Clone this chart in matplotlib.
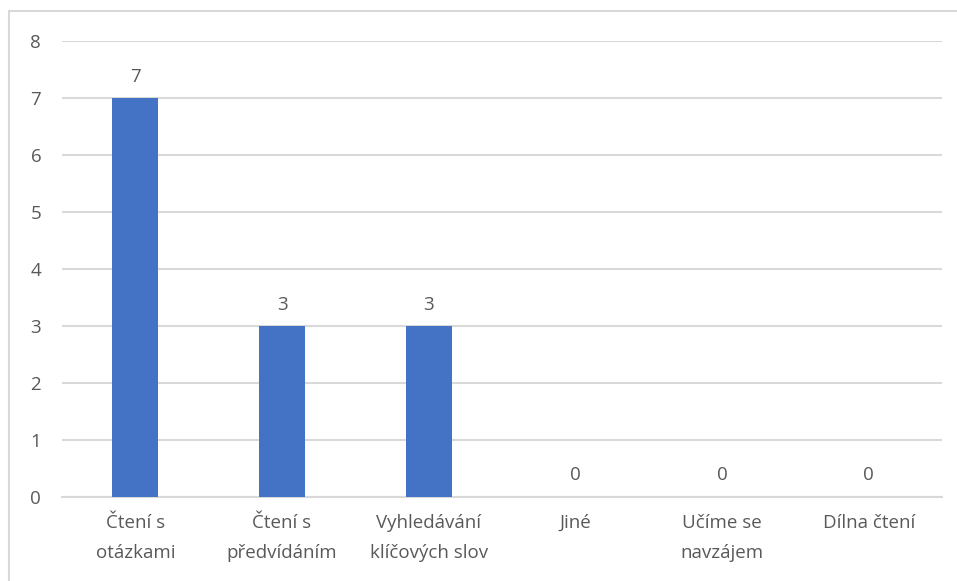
import matplotlib
matplotlib.use('Agg')
import matplotlib.pyplot as plt
from matplotlib.patches import Rectangle

# data
categories = ['Čtení s\notázkami', 'Čtení s\npředvídáním', 'Vyhledávání\nklíčových slov',
              'Jiné', 'Učíme se\nnavzájem', 'Dílna čtení']
values = [7, 3, 3, 0, 0, 0]
y_ticks = [0, 1, 2, 3, 4, 5, 6, 7, 8]

plt.rcParams['font.family'] = ['Open Sans', 'DejaVu Sans']
text_color = '#595959'

fig = plt.figure(figsize=(9.57, 5.81), dpi=100)
ax = fig.add_axes([62 / 957, 1 - 497 / 581, 880 / 957, (497 - 41) / 581])

# chart border
fig.patches.append(Rectangle((9 / 957, -0.05), 1.0, 1 - 11 / 581 + 0.05,
                             transform=fig.transFigure, fill=False,
                             edgecolor='#d9d9d9', linewidth=1.5))

x = range(len(categories))
bars = ax.bar(x, values, width=0.315, color='#4472c4', zorder=3)

for i, v in enumerate(values):
    ax.annotate(str(v), (i, v), xytext=(0, 9), textcoords='offset points',
                ha='center', va='bottom', fontsize=13.5, color=text_color)

ax.set_ylim(0, 8)
ax.set_xlim(-0.5, len(categories) - 0.5)
ax.set_yticks(y_ticks)
ax.set_xticks(list(x))
ax.set_xticklabels(categories, fontsize=13.5, color=text_color, linespacing=1.85)
ax.tick_params(axis='y', labelsize=13.5, labelcolor=text_color, length=0, pad=15)
ax.tick_params(axis='x', length=0, pad=12)
ax.grid(axis='y', color='#d9d9d9', linewidth=1.5, zorder=0)
for side in ['top', 'right', 'left']:
    ax.spines[side].set_visible(False)
ax.spines['bottom'].set_color('#d9d9d9')
ax.spines['bottom'].set_linewidth(1.5)

plt.savefig('out.png', dpi=100)
plt.close()
